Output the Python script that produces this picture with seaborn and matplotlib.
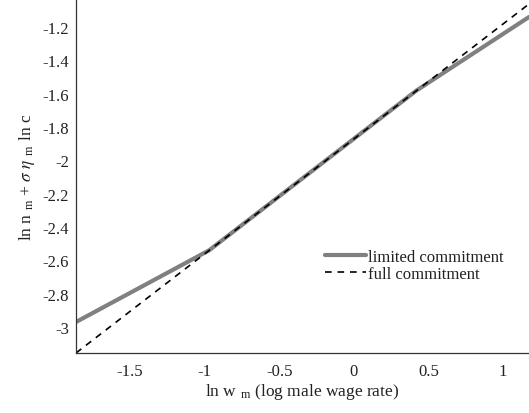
import matplotlib
matplotlib.use("Agg")
import matplotlib.pyplot as plt
import seaborn as sns
import pandas as pd

# Log male wage grid and outcomes (piecewise linear)
wage_limited = [-1.862, -0.97, 0.42, 1.174]
value_limited = [-2.97, -2.54, -1.581, -1.14]
wage_full = [-1.862, 1.174]
value_full = [-3.156, -1.062]

x_ticks = [-1.5, -1, -0.5, 0, 0.5, 1]
x_tick_labels = ["-1.5", "-1", "-0.5", "0", "0.5", "1"]
y_ticks = [-3, -2.8, -2.6, -2.4, -2.2, -2, -1.8, -1.6, -1.4, -1.2]
y_tick_labels = ["-3", "-2.8", "-2.6", "-2.4", "-2.2", "-2", "-1.8", "-1.6", "-1.4", "-1.2"]

sns.set_style("white")
plt.rcParams["font.family"] = ["Liberation Serif", "DejaVu Serif"]
plt.rcParams["mathtext.fontset"] = "stix"

df_lim = pd.DataFrame({"w": wage_limited, "v": value_limited})
df_full = pd.DataFrame({"w": wage_full, "v": value_full})

fig = plt.figure(figsize=(5.29, 4.14), dpi=100)
ax = fig.add_axes([76 / 529, 1 - 354 / 414, 1 - 76 / 529, 354 / 414])

sns.lineplot(data=df_lim, x="w", y="v", ax=ax, color="#808080", linewidth=3.0,
             label="limited commitment", sort=False)
sns.lineplot(data=df_full, x="w", y="v", ax=ax, color="black", linewidth=1.2,
             dashes=False, label="full commitment", sort=False)
ax.lines[1].set_dashes([4.0, 3.5])

ax.set_xlim(-1.862, 1.174)
ax.set_ylim(-3.156, -1.032)
ax.set_xticks(x_ticks)
ax.set_xticklabels(x_tick_labels)
ax.set_yticks(y_ticks)
ax.set_yticklabels(y_tick_labels)

ax.tick_params(direction="in", length=4, width=0.8, color="#333333",
               labelsize=12, labelcolor="#222222")
ax.tick_params(axis="x", pad=7)
ax.tick_params(axis="y", pad=5)
for side in ["top", "right"]:
    ax.spines[side].set_visible(False)
for side in ["left", "bottom"]:
    ax.spines[side].set_color("#333333")
    ax.spines[side].set_linewidth(0.9)

sub = r"$_{\mathregular{m}}$"
ax.set_xlabel("ln w " + sub + " (log male wage rate)", fontsize=12.5, color="#222222",
              labelpad=2)
ax.set_ylabel("ln n " + sub + r" + $\sigma$ $\eta$ " + sub + " ln c", fontsize=12.5,
              color="#222222", labelpad=4)

leg = ax.legend(loc="lower right", bbox_to_anchor=(0.943, 0.2), frameon=False,
                fontsize=12, handlelength=2.45, handletextpad=0.1, labelspacing=0.1,
                borderpad=0, borderaxespad=0)
for t in leg.get_texts():
    t.set_color("#222222")

fig.savefig("out.png", dpi=100)
